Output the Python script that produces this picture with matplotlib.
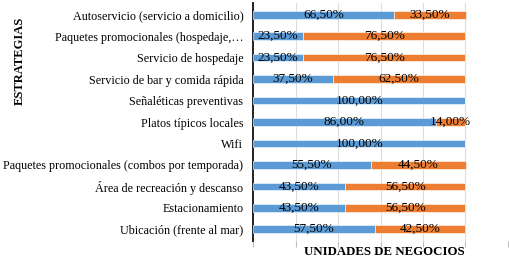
import matplotlib
matplotlib.use("Agg")
import matplotlib.pyplot as plt
import numpy as np

# Datos (porcentajes de unidades de negocios por estrategia)
estrategias = [
    "Autoservicio (servicio a domicilio)",
    "Paquetes promocionales (hospedaje,…",
    "Servicio de hospedaje",
    "Servicio de bar y comida rápida",
    "Señaléticas preventivas",
    "Platos típicos locales",
    "Wifi",
    "Paquetes promocionales (combos por temporada)",
    "Área de recreación y descanso",
    "Estacionamiento",
    "Ubicación (frente al mar)",
]
si = [66.5, 23.5, 23.5, 37.5, 100.0, 86.0, 100.0, 55.5, 43.5, 43.5, 57.5]
no = [33.5, 76.5, 76.5, 62.5, 0.0, 14.0, 0.0, 44.5, 56.5, 56.5, 42.5]

AZUL = "#5b9bd5"
NARANJA = "#ed7d31"
FUENTE = "Liberation Serif"

plt.rcParams["font.family"] = FUENTE

fig = plt.figure(figsize=(5.1, 2.6), dpi=100)
ax = fig.add_axes([253 / 510, 19 / 260, 255 / 510, 238 / 260])

y = np.arange(len(estrategias))
a = np.array(si) / 100
b = np.array(no) / 100

ax.barh(y, a, height=0.35, color=AZUL, edgecolor="white", linewidth=0.4, zorder=3)
ax.barh(y, b, left=a, height=0.35, color=NARANJA, edgecolor="white", linewidth=0.4, zorder=3)

def fmt(v):
    return f"{v:.2f}%".replace(".", ",")

for yi, va, vb in zip(y, si, no):
    ax.text(va / 200, yi, fmt(va), ha="center", va="center", fontsize=9.5, zorder=4)
    if vb > 0:
        ax.text(va / 100 + vb / 200, yi, fmt(vb), ha="center", va="center", fontsize=9.5, zorder=4)

ax.set_yticks(y)
ax.set_yticklabels(estrategias, fontsize=8.7)
ax.set_ylim(len(estrategias) - 0.45, -0.55)
ax.set_xlim(0, 1.2)
ax.set_xticks(np.arange(0, 1.21, 0.2))
ax.tick_params(axis="x", length=4, width=0.8, color="#bfbfbf", labelbottom=False)
ax.tick_params(axis="y", length=0, pad=7)
ax.grid(axis="x", color="#dddddd", linewidth=0.8, zorder=0)

for s in ["top", "right", "bottom"]:
    ax.spines[s].set_visible(False)
ax.spines["left"].set_linewidth(1.4)
ax.spines["left"].set_color("#222222")

fig.text(20 / 510, 1 - 61 / 260, "ESTRATEGIAS", rotation=90, ha="center", va="center",
         fontsize=9, fontweight="bold")
fig.text(384 / 510, 1 - 252 / 260, "UNIDADES DE NEGOCIOS", ha="center", va="center",
         fontsize=9.3, fontweight="bold")

fig.savefig("out.png", dpi=100)
